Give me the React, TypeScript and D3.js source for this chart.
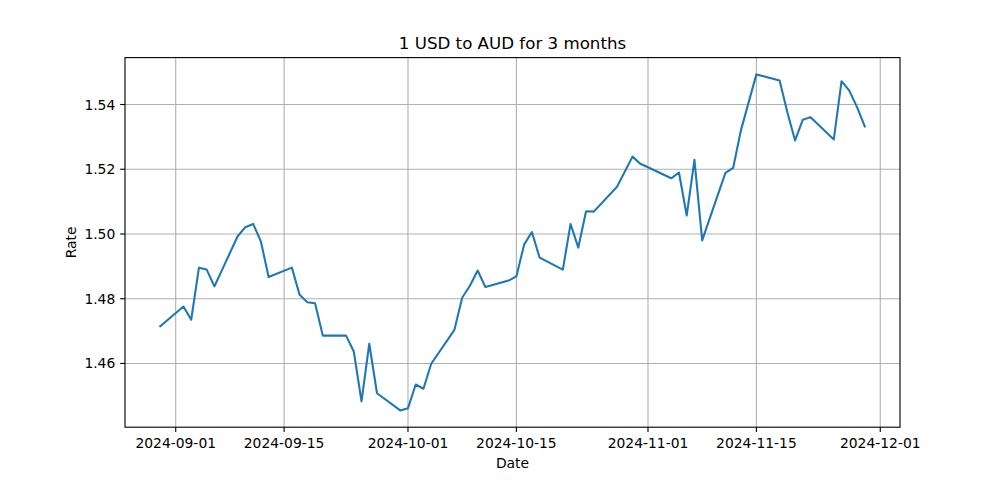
import React from "react";
import * as d3 from "d3";

const dates: string[] = [
  "2024-08-30", "2024-09-02", "2024-09-03", "2024-09-04", "2024-09-05", "2024-09-06",
  "2024-09-09", "2024-09-10", "2024-09-11", "2024-09-12", "2024-09-13",
  "2024-09-16", "2024-09-17", "2024-09-18", "2024-09-19", "2024-09-20",
  "2024-09-23", "2024-09-24", "2024-09-25", "2024-09-26", "2024-09-27",
  "2024-09-30", "2024-10-01", "2024-10-02", "2024-10-03", "2024-10-04",
  "2024-10-07", "2024-10-08", "2024-10-09", "2024-10-10", "2024-10-11",
  "2024-10-14", "2024-10-15", "2024-10-16", "2024-10-17", "2024-10-18",
  "2024-10-21", "2024-10-22", "2024-10-23", "2024-10-24", "2024-10-25",
  "2024-10-28", "2024-10-30", "2024-10-31", "2024-11-01",
  "2024-11-04", "2024-11-05", "2024-11-06", "2024-11-07", "2024-11-08",
  "2024-11-11", "2024-11-12", "2024-11-13", "2024-11-15",
  "2024-11-18", "2024-11-19", "2024-11-20", "2024-11-21", "2024-11-22",
  "2024-11-25", "2024-11-26", "2024-11-27", "2024-11-28", "2024-11-29",
];

const rates: number[] = [
  1.4715, 1.4776, 1.4735, 1.4896, 1.4890, 1.4838,
  1.4993, 1.5021, 1.5031, 1.4977, 1.4867,
  1.4896, 1.4812, 1.4789, 1.4786, 1.4686,
  1.4686, 1.4637, 1.4483, 1.4661, 1.4508,
  1.4455, 1.4462, 1.4535, 1.4522, 1.4599,
  1.4704, 1.4803, 1.4840, 1.4887, 1.4836,
  1.4856, 1.4869, 1.4967, 1.5006, 1.4927,
  1.4890, 1.5031, 1.4958, 1.5070, 1.5069,
  1.5146, 1.5239, 1.5217, 1.5206,
  1.5172, 1.5190, 1.5057, 1.5229, 1.4980,
  1.5189, 1.5204, 1.5320, 1.5493,
  1.5474, 1.5376, 1.5289, 1.5353, 1.5361,
  1.5292, 1.5472, 1.5443, 1.5392, 1.5332,
];

const xTickLabels: string[] = [
  "2024-09-01", "2024-09-15", "2024-10-01", "2024-10-15", "2024-11-01", "2024-11-15", "2024-12-01",
];
const yTickValues: number[] = [1.46, 1.48, 1.5, 1.52, 1.54];

const title = "1 USD to AUD for 3 months";
const xLabel = "Date";
const yLabel = "Rate";

const W = 1000;
const H = 480;
const left = 125;
const right = 900;
const top = 57.6;
const bottom = 427.2;

const parse = (s: string) => new Date(s + "T00:00:00Z");

export default function App() {
  const pts = dates.map((d, i) => ({ d: parse(d), v: rates[i] }));
  const [x0, x1] = d3.extent(pts, (p) => +p.d) as [number, number];
  const xm = (x1 - x0) * 0.05;
  const x = d3.scaleUtc().domain([new Date(x0 - xm), new Date(x1 + xm)]).range([left, right]);
  const [y0, y1] = d3.extent(rates) as [number, number];
  const ym = (y1 - y0) * 0.05;
  const y = d3.scaleLinear().domain([y0 - ym, y1 + ym]).range([bottom, top]);
  const line = d3
    .line<{ d: Date; v: number }>()
    .x((p) => x(p.d))
    .y((p) => y(p.v));

  const font = "DejaVu Sans, sans-serif";
  const tickLen = 4.86;
  const fs = 13.89;

  return (
    <div style={{ position: "absolute", left: 0, top: 0 }}>
      <svg width={W} height={H} style={{ display: "block", background: "#fff" }}>
        <rect x={0} y={0} width={W} height={H} fill="#fff" />
        {/* grid */}
        {xTickLabels.map((t) => (
          <line key={"gx" + t} x1={x(parse(t))} x2={x(parse(t))} y1={top} y2={bottom} stroke="#b0b0b0" strokeWidth={1.11} />
        ))}
        {yTickValues.map((v) => (
          <line key={"gy" + v} x1={left} x2={right} y1={y(v)} y2={y(v)} stroke="#b0b0b0" strokeWidth={1.11} />
        ))}
        <path d={line(pts) || ""} fill="none" stroke="#1f77b4" strokeWidth={2.08} strokeLinejoin="round" strokeLinecap="square" />
        {/* spines */}
        <rect x={left} y={top} width={right - left} height={bottom - top} fill="none" stroke="#000" strokeWidth={1.11} />
        {/* x ticks */}
        {xTickLabels.map((t) => (
          <g key={"tx" + t} transform={`translate(${x(parse(t))},${bottom})`}>
            <line y1={0} y2={tickLen} stroke="#000" strokeWidth={1.11} />
            <text y={tickLen + 4.86 + 10.6} textAnchor="middle" fontFamily={font} fontSize={fs} fill="#000">
              {t}
            </text>
          </g>
        ))}
        {/* y ticks */}
        {yTickValues.map((v) => (
          <g key={"ty" + v} transform={`translate(${left},${y(v)})`}>
            <line x1={0} x2={-tickLen} stroke="#000" strokeWidth={1.11} />
            <text x={-tickLen - 4.86} dy="0.36em" textAnchor="end" fontFamily={font} fontSize={fs} fill="#000">
              {d3.format(".2f")(v)}
            </text>
          </g>
        ))}
        <text x={(left + right) / 2} y={49.3} textAnchor="middle" fontFamily={font} fontSize={16.67} fill="#000">
          {title}
        </text>
        <text x={(left + right) / 2} y={467.5} textAnchor="middle" fontFamily={font} fontSize={fs} fill="#000">
          {xLabel}
        </text>
        <text transform={`translate(76,${(top + bottom) / 2}) rotate(-90)`} textAnchor="middle" fontFamily={font} fontSize={fs} fill="#000">
          {yLabel}
        </text>
      </svg>
    </div>
  );
}
